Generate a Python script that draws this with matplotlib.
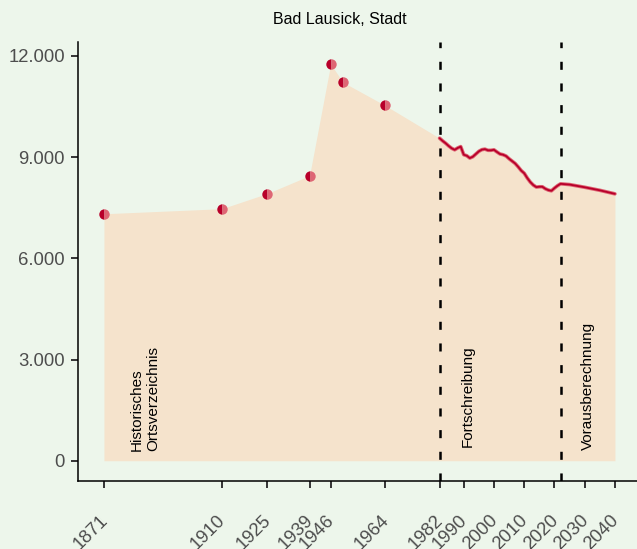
import matplotlib
matplotlib.use("Agg")
import matplotlib.pyplot as plt
import matplotlib.transforms as mtransforms
import numpy as np

plt.rcParams['font.family'] = ['Liberation Sans', 'DejaVu Sans']
plt.rcParams['lines.scale_dashes'] = False

# Historisches Ortsverzeichnis
hist_years = [1871, 1910, 1925, 1939, 1946, 1950, 1964]
hist_pop = [7320, 7470, 7920, 8450, 11760, 11220, 10530]

# Fortschreibung (annual)
fort_years = list(range(1982, 2023))
fort_pop = [9560, 9480, 9410, 9330, 9260, 9215, 9270, 9310, 9070, 9040,
            8970, 9010, 9090, 9170, 9220, 9235, 9200, 9200, 9215, 9150,
            9090, 9070, 9030, 8950, 8880, 8810, 8710, 8600, 8520, 8380,
            8260, 8170, 8110, 8120, 8120, 8060, 8020, 8000, 8080, 8150,
            8207]

# Vorausberechnung
proj_years = [2022, 2025, 2030, 2035, 2040]
proj_pop = [8207, 8185, 8105, 8015, 7910]

xticks = [1871, 1910, 1925, 1939, 1946, 1964, 1982, 1990, 2000, 2010, 2020, 2030, 2040]
yticks = [0, 3000, 6000, 9000, 12000]
ytick_labels = ['0', '3.000', '6.000', '9.000', '12.000']
breaks = [1982, 2022]

title = 'Bad Lausick, Stadt'
bg = '#EDF6EB'
fill_col = '#F5E3CC'
dark_red = '#B8002A'
light_red = '#DE6674'

fig = plt.figure(figsize=(6.37, 5.49), dpi=100, facecolor=bg)
ax = fig.add_axes([78.4 / 637, 68 / 549, (637 - 78.4) / 637, 439 / 549])
ax.set_facecolor(bg)

all_years = hist_years + fort_years + proj_years[1:]
all_pop = hist_pop + fort_pop + proj_pop[1:]
ax.fill_between(all_years, 0, all_pop, color=fill_col, lw=0, zorder=1)

line_years = fort_years + proj_years[1:]
line_pop = fort_pop + proj_pop[1:]
ax.plot(line_years, line_pop, color=light_red, lw=2.6, zorder=3, solid_capstyle='round')
ax.plot(line_years, line_pop, color=dark_red, lw=1.3, zorder=4, solid_capstyle='round')

ax.plot(hist_years, hist_pop, ls='none', marker='o', ms=7.5, fillstyle='left',
        markerfacecolor=dark_red, markerfacecoloralt=light_red,
        markeredgewidth=0, zorder=5)

for b in breaks:
    ax.axvline(b, color='black', lw=1.8, dashes=(5.8, 9.8), zorder=6)

txt_kw = dict(rotation=90, fontsize=11, ha='center', va='bottom', color='black',
              multialignment='left', zorder=7)
ax.text(1884.6, 300, 'Historisches\nOrtsverzeichnis', **txt_kw)
ax.text(1991.4, 420, 'Fortschreibung', **txt_kw)
ax.text(2031.1, 330, 'Vorausberechnung', **txt_kw)

ax.set_xlim(1862.55, 2047.3)
ax.set_ylim(-600, 12410)

ax.set_yticks(yticks)
ax.set_yticklabels(ytick_labels)
ax.set_xticks(xticks)
ax.set_xticklabels([str(x) for x in xticks], rotation=45, ha='right', va='center',
                   rotation_mode='anchor')

ax.tick_params(axis='both', colors='#333333', labelcolor='#4D4D4D', labelsize=13.3,
               length=4.8, width=1.4)
ax.tick_params(axis='y', pad=5)
offset = mtransforms.ScaledTranslation(1 / 100, -25 / 100, fig.dpi_scale_trans)
for lab in ax.get_xticklabels():
    lab.set_transform(lab.get_transform() + offset)

for s in ['top', 'right']:
    ax.spines[s].set_visible(False)
for s in ['left', 'bottom']:
    ax.spines[s].set_color('black')
    ax.spines[s].set_linewidth(1.1)

fig.text(339.5 / 637, 1 - 20 / 549, title, ha='center', va='center', fontsize=11.5)

fig.savefig('out.png', dpi=100, facecolor=bg)
